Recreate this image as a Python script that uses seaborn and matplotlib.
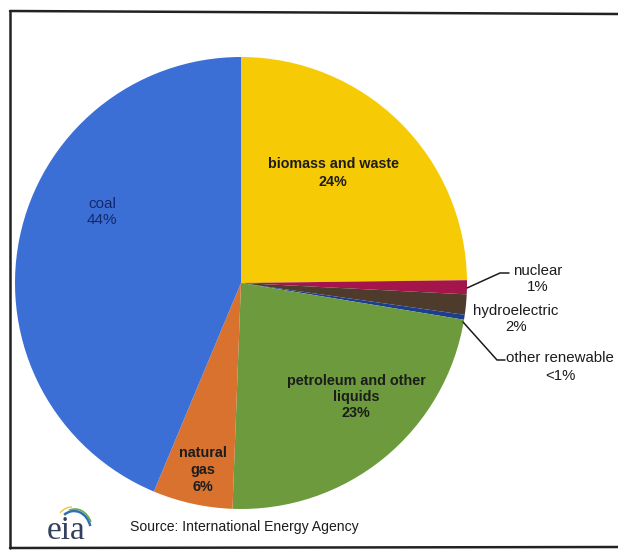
import matplotlib
matplotlib.use("Agg")
import matplotlib.pyplot as plt
from matplotlib.patches import Arc
import seaborn as sns

# ---- data ----
categories = ["biomass and waste", "nuclear", "hydroelectric", "other renewable",
              "petroleum and other liquids", "natural gas", "coal"]
shares = [24.8, 1.0, 1.45, 0.35, 23.0, 5.7, 43.7]
pct_labels = ["24%", "1%", "2%", "<1%", "23%", "6%", "44%"]
colors = ["#f6cb05", "#a3154b", "#4e3b2b", "#1c3e8e", "#6c9a3c", "#d8722e", "#3b6fd6"]
source_text = "Source: International Energy Agency"

sns.set_theme(style="white")
plt.rcParams["font.family"] = ["Liberation Sans", "DejaVu Sans"]

W, H = 618, 558
fig = plt.figure(figsize=(W / 100, H / 100), dpi=100)
ax = fig.add_axes([0, 0, 1, 1])


def Y(p):
    return H - p


palette = sns.color_palette(colors)
ax.pie(shares, colors=palette, startangle=90, counterclock=False,
       center=(241, Y(283)), radius=226,
       wedgeprops=dict(linewidth=0, edgecolor="none"))
ax.set_xlim(0, W)
ax.set_ylim(0, H)
ax.set_aspect("equal")
ax.axis("off")

dark = "#1c1c1c"
# inside labels
ax.text(333, Y(173), "biomass and waste\n" + pct_labels[0], ha="center", va="center",
        fontsize=10.3, fontweight="bold", color=dark, linespacing=1.3)
ax.text(356, Y(397), "petroleum and other\nliquids\n" + pct_labels[4], ha="center", va="center",
        fontsize=10.4, fontweight="bold", color=dark, linespacing=1.17)
ax.text(203, Y(470), "natural\ngas\n" + pct_labels[5], ha="center", va="center",
        fontsize=10.4, fontweight="bold", color=dark, linespacing=1.25)
ax.text(102, Y(212), "coal\n" + pct_labels[6], ha="center", va="center",
        fontsize=11, color="#16286a", linespacing=1.2)

# outside labels
ax.text(538, Y(279), "nuclear\n" + pct_labels[1], ha="center", va="center",
        fontsize=10.8, color=dark, linespacing=1.22)
ax.text(516, Y(319), "hydroelectric\n" + pct_labels[2], ha="center", va="center",
        fontsize=10.8, color=dark, linespacing=1.22)
ax.text(560, Y(367), "other renewable\n" + pct_labels[3], ha="center", va="center",
        fontsize=10.8, color=dark, linespacing=1.3)

# leader lines
ax.plot([467, 500, 509], [Y(288), Y(273), Y(273)], color=dark, lw=1.1)
ax.plot([463, 497, 505], [Y(322), Y(360), Y(360)], color=dark, lw=1.1)

# frame
ax.plot([10, 10], [Y(548), Y(11)], color="#222222", lw=1.8)
ax.plot([10, 618], [Y(11), Y(14)], color="#222222", lw=1.8)
ax.plot([10, 618], [Y(548), Y(547)], color="#222222", lw=1.8)

# eia logo
ax.text(66, Y(531), "eia", ha="center", va="center", fontsize=24,
        family=["Liberation Serif", "DejaVu Serif"], color="#33415e")
ax.add_patch(Arc((74, Y(532)), 34, 42, theta1=20, theta2=120, color="#2e6fb8", lw=1.8))
ax.add_patch(Arc((75, Y(533)), 36, 48, theta1=35, theta2=105, color="#6aa84f", lw=1.2))
ax.add_patch(Arc((72, Y(530)), 36, 46, theta1=90, theta2=125, color="#e8c840", lw=1.0))

ax.text(130, Y(527), source_text, ha="left", va="center", fontsize=10.1, color=dark)

fig.savefig("out.png", dpi=100, facecolor="white")
